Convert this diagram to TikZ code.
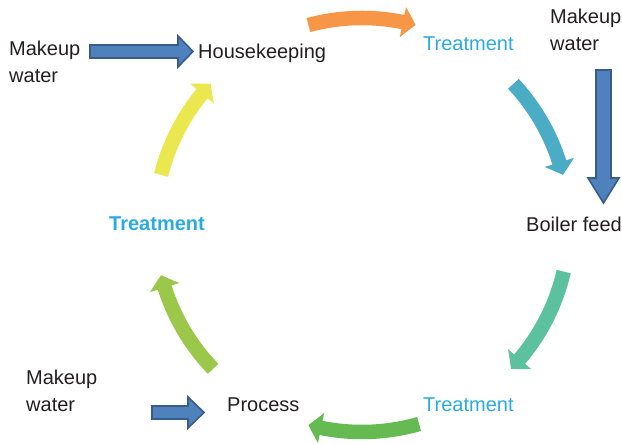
\documentclass[tikz,border=0pt]{standalone}
\usepackage{fontspec}
\setmainfont{Liberation Sans}
\usetikzlibrary{arrows.meta,bending}
\definecolor{txt}{HTML}{231F20}
\definecolor{trc}{HTML}{29ABE2}
\definecolor{bfill}{HTML}{4F81BD}
\definecolor{bline}{HTML}{385D8A}
\definecolor{corange}{HTML}{F79646}
\definecolor{cteal}{HTML}{4BACC6}
\definecolor{cseafoam}{HTML}{5CC19E}
\definecolor{cgreen}{HTML}{65BB52}
\definecolor{clime}{HTML}{9BC84B}
\definecolor{cyellow}{HTML}{EBE84F}
\begin{document}
\begin{tikzpicture}[x=1pt,y=1pt,
  lbl/.style={anchor=base west,inner sep=0pt,text=txt,font=\fontsize{20}{27}\selectfont,align=left},
  trt/.style={lbl,text=trc},
  cyc/.style={line width=14.5pt,line cap=butt,-{Triangle[width=30pt,length=13pt,bend]}},
  blk/.style={fill=bfill,draw=bline,line width=1.6pt,line join=miter}]
\useasboundingbox (0,0) rectangle (622,444);
\coordinate (c) at (362,219);
% labels (multi-line nodes: base = last line)
\node[lbl] (mw1) at (9,361) {Makeup\\water};
\node[lbl] (hk) at (198,385) {Housekeeping};
\node[trt] (tr1) at (423,393) {Treatment};
\node[lbl] (mw2) at (550,393.5) {Makeup\\water};
\node[lbl] (bf) at (526,212) {Boiler feed};
\node[trt] (tr2) at (423,32) {Treatment};
\node[lbl] (pr) at (227,32) {Process};
\node[lbl] (mw3) at (26,32) {Makeup\\water};
\node[trt,font=\fontsize{20}{27}\selectfont\bfseries] (tr3) at (109,213) {Treatment};
% cycle arrows
\draw[cyc,corange]  ([shift={(105:207)}]c) arc[start angle=105, end angle=75, radius=207];
\draw[cyc,cteal]    ([shift={(43:207)}]c) arc[start angle=43, end angle=14, radius=207];
\draw[cyc,cseafoam] ([shift={(-13:207)}]c) arc[start angle=-13, end angle=-44, radius=207];
\draw[cyc,cgreen]   ([shift={(-74:207)}]c) arc[start angle=-74, end angle=-105, radius=207];
\draw[cyc,clime]    ([shift={(-136:207)}]c) arc[start angle=-136, end angle=-166, radius=207];
\draw[cyc,cyellow]  ([shift={(166:207)}]c) arc[start angle=166, end angle=137, radius=207];
% makeup water block arrows
\draw[blk] (90,399) -- (178,399) -- (178,408) -- (193,392.5) -- (178,377) -- (178,386) -- (90,386) -- cycle;
\draw[blk] (596,374) -- (611,374) -- (611,266) -- (619,266) -- (603.5,241) -- (588,266) -- (596,266) -- cycle;
\draw[blk] (152,38) -- (188,38) -- (188,47) -- (204,31.5) -- (188,16) -- (188,25) -- (152,25) -- cycle;
\end{tikzpicture}
\end{document}
